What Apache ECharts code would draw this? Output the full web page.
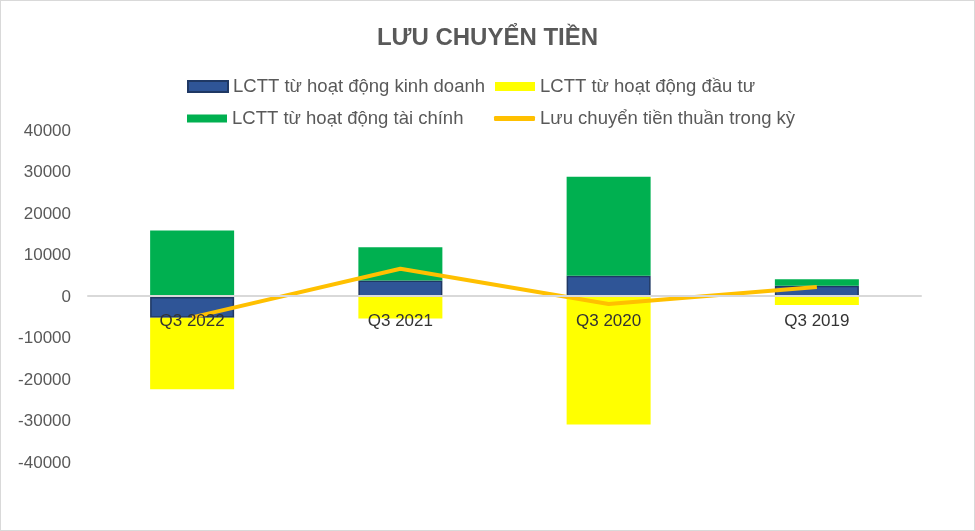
<!DOCTYPE html>
<html><head><meta charset="utf-8">
<script src="https://cdn.jsdelivr.net/npm/echarts@6/dist/echarts.min.js"></script>
<style>html,body{margin:0;padding:0;background:#fff;}#c{width:973px;height:529px;border:1px solid #D9D9D9;}</style>
</head><body><div id="c"></div>
<script>
const categories = ['Q3 2022','Q3 2021','Q3 2020','Q3 2019'];
const operating = [-5000, 4000, 5100, 2700];
const investing = [-17200, -5200, -30700, -1900];
const financing = [16000, 8000, 23900, 1600];
const netFlow = [-4900, 6800, -1700, 2400];
const seriesNames = ['LCTT từ hoạt động kinh doanh','LCTT từ hoạt động đầu tư','LCTT từ hoạt động tài chính','Lưu chuyển tiền thuần trong kỳ'];

const chart = echarts.init(document.getElementById('c'));
const font = 'Liberation Sans, Arial, sans-serif';
const legendText = {color:'#595959', fontSize:18.5, fontFamily:font};
function lg(name, left, top, w, h, icon){
  return {data:[{name:name, icon:icon}], left:left, top:top, itemWidth:w, itemHeight:h,
    itemGap:0, textStyle:legendText, selectedMode:false, padding:0};
}
chart.setOption({
  animation:false,
  title:{text:'LƯU CHUYỂN TIỀN', left:'center', top:20,
    textStyle:{color:'#595959', fontSize:24, fontWeight:'bold', fontFamily:font}},
  legend:[
    lg(seriesNames[0],186,76,40,11,'rect'),
    lg(seriesNames[1],494,76,40,9,'rect'),
    lg(seriesNames[2],186,108,40,8,'rect'),
    lg(seriesNames[3],493,108,41,5,'roundRect')
  ],
  grid:{left:87, right:53, top:130, bottom:67, containLabel:false},
  xAxis:{type:'category', data:categories, z:10, offset:-167,
    axisLine:{onZero:false, lineStyle:{color:'#D9D9D9', width:2}},
    axisTick:{show:false},
    axisLabel:{color:'#333333', fontSize:17, fontFamily:font, margin:17}},
  yAxis:{type:'value', min:-40000, max:40000, interval:10000,
    splitLine:{show:false}, axisLine:{show:false}, axisTick:{show:false},
    axisLabel:{color:'#595959', fontSize:17, fontFamily:font, margin:17, formatter:function(v){return String(v);}}},
  series:[
    {name:seriesNames[0], type:'bar', stack:'a', data:operating, barWidth:84,
      itemStyle:{color:'#2F5597', borderColor:'#1F3864', borderWidth:1.5}},
    {name:seriesNames[1], type:'bar', stack:'a', data:investing, barWidth:84,
      itemStyle:{color:'#FFFF00'}},
    {name:seriesNames[2], type:'bar', stack:'a', data:financing, barWidth:84,
      itemStyle:{color:'#00B050'}},
    {name:seriesNames[3], type:'line', data:netFlow, z:5, showSymbol:false, symbol:'none',
      lineStyle:{color:'#FFC000', width:4}, itemStyle:{color:'#FFC000'}}
  ]
});
</script></body></html>
